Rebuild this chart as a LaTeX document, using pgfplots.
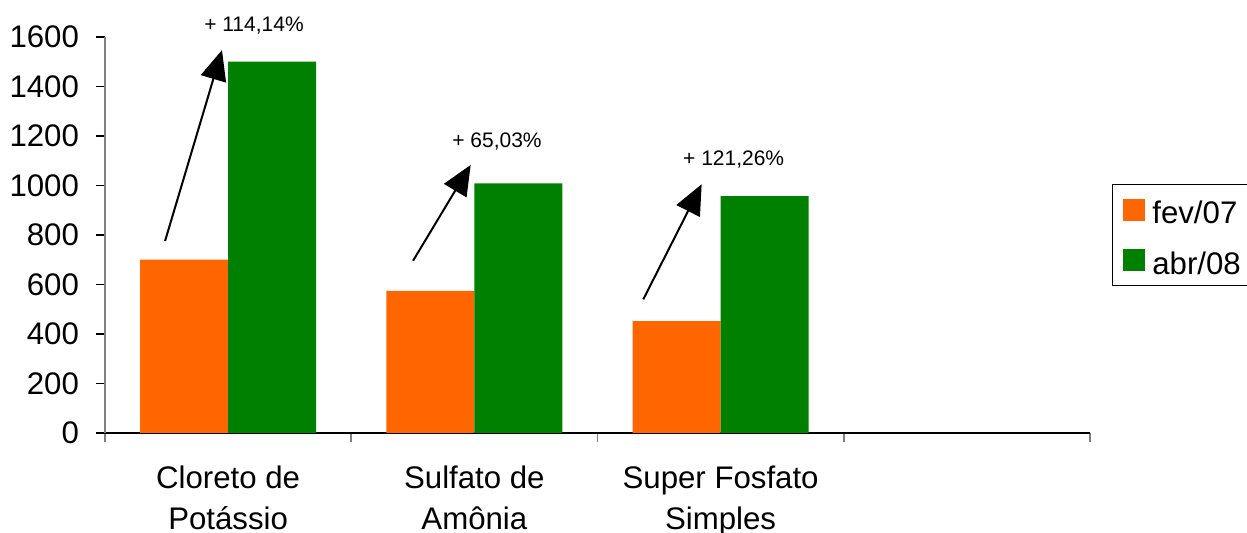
\documentclass[border=0pt]{standalone}
\usepackage{pgfplots}
\pgfplotsset{compat=1.18}
\usetikzlibrary{arrows.meta}
\usepackage{fontspec}
\setmainfont{Liberation Sans}
\definecolor{laranja}{HTML}{FF6600}
\definecolor{verde}{HTML}{008000}
\begin{document}
\begin{tikzpicture}
\begin{axis}[
  at={(0,0)}, anchor=south west,
  scale only axis, width=492.5pt, height=198pt,
  xmin=-0.5, xmax=3.5, ymin=0, ymax=1600,
  ybar=0pt, bar width=44pt,
  clip=false,
  axis x line*=bottom, axis y line*=left,
  x axis line style={black, line width=0.8pt, -},
  y axis line style={gray, line width=1pt, -},
  tick align=outside,
  xtick={0,1,2},
  xticklabels={Cloreto de\\Potássio, Sulfato de\\Amônia, Super Fosfato\\Simples},
  major x tick style={draw=none},
  minor xtick={-0.5,0.5,1.5,2.5,3.5},
  minor x tick style={gray, line width=0.8pt},
  minor tick length=4.5pt,
  ytick={0,200,...,1600},
  major y tick style={black, line width=0.6pt},
  major tick length=4.5pt,
  /pgf/number format/assume math mode=true,
  /pgf/number format/1000 sep={},
  yticklabel style={font=\fontsize{15.6}{18}\selectfont, xshift=-5pt},
  xticklabel style={font=\fontsize{15.6}{20.5}\selectfont, align=center, yshift=-8.5pt},
  legend cell align=left,
  legend image code/.code={\fill[#1] (0pt,-5.5pt) rectangle (11pt,5.5pt); \path (12.5pt,0pt);},
  legend style={at={(1.0223,0.6288)}, anchor=north west, draw=black,
    font=\fontsize{15.6}{18}\selectfont, inner xsep=5.5pt, inner ysep=2pt,
    row sep=4pt,
    /tikz/every even column/.append style={text width=70pt, text height=15.7pt, text depth=0pt}},
]
\addplot[draw=none, fill=laranja] coordinates {(0,700) (1,574) (2,452)};
\addlegendentry{fev/07}
\addplot[draw=none, fill=verde] coordinates {(0,1500) (1,1009) (2,957)};
\addlegendentry{abr/08}

\draw[-{Triangle[length=15pt,width=13pt]}, line width=1pt] (axis cs:-0.256,776) -- (axis cs:-0.025,1547);
\draw[-{Triangle[length=15pt,width=13pt]}, line width=1pt] (axis cs:0.751,696) -- (axis cs:0.985,1083);
\draw[-{Triangle[length=15pt,width=13pt]}, line width=1pt] (axis cs:1.686,540) -- (axis cs:1.923,1005);
\node[font=\fontsize{10.5}{12}\selectfont] at (axis cs:0.105,1648) {+ 114,14\%};
\node[font=\fontsize{10.5}{12}\selectfont] at (axis cs:1.092,1177) {+ 65,03\%};
\node[font=\fontsize{10.5}{12}\selectfont] at (axis cs:2.053,1103) {+ 121,26\%};
\end{axis}
\pgfresetboundingbox
\useasboundingbox (-52.5pt,-50pt) rectangle (571pt,216.5pt);
\end{tikzpicture}
\end{document}
